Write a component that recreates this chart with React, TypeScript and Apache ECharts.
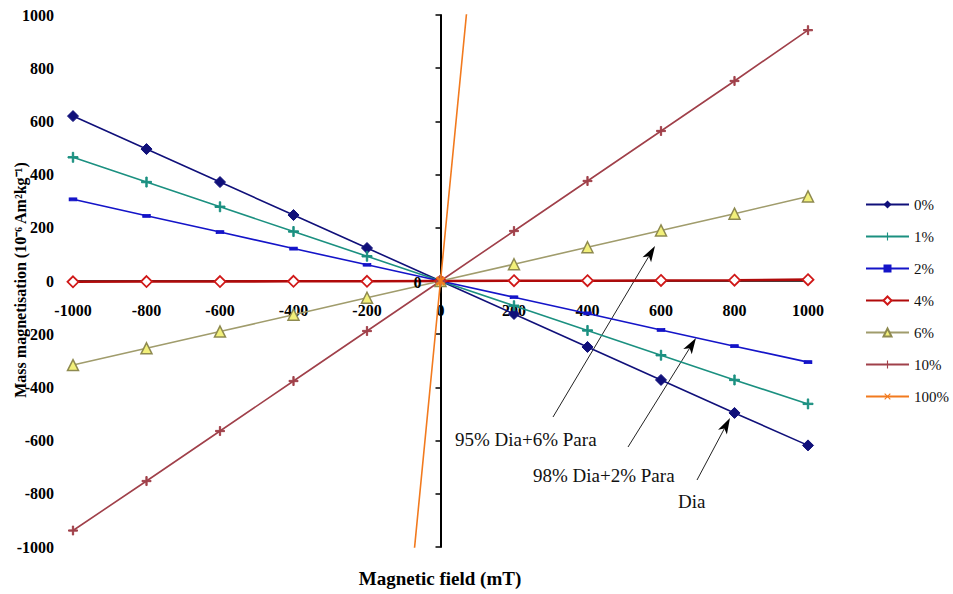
import React, { useEffect, useRef } from "react";
import * as echarts from "echarts";

const fieldValues = [-1000, -800, -600, -400, -200, 0, 200, 400, 600, 800, 1000];
const seriesNames = ["0%", "1%", "2%", "4%", "6%", "10%", "100%"];
const mag0 = [620, 496, 372, 248, 124, 0, -124, -248, -372, -496, -618];
const mag1 = [465, 372, 279, 186, 93, 0, -93, -186, -279, -372, -462];
const mag2 = [307, 245, 184, 122, 61, 0, -61, -122, -184, -245, -305];
const mag4 = [-3, -2, -2, -1, -1, 0, 1, 1, 2, 3, 5];
const mag6 = [-316, -253, -190, -127, -63, 0, 63, 127, 190, 253, 318];
const mag10 = [-938, -752, -564, -376, -188, 0, 188, 376, 564, 752, 943];
const mag100 = [-14200, -11360, -8520, -5680, -2840, 0, 2840, 5680, 8520, 11360, 14200];
const xTicks = [-1000, 1000, 200];
const yTicks = [-1000, 1000, 200];
const yZeroLabel = "0";

const SERIF = "'Times New Roman', 'Liberation Serif', serif";
const PLUS = "path://M4.3,0H5.7V4.3H10V5.7H5.7V10H4.3V5.7H0V4.3H4.3Z";

const GRID_TOP = 15;
const GRID_BOTTOM = 47;
const GRID_LEFT = 73;
const GRID_RIGHT = 145;
const CHART_W = 953;
const CHART_H = 594;
const Y_LABEL_MARGIN = 19;
const TICK_FONT = 16;

function arrow(x1: number, y1: number, x2: number, y2: number) {
  const dx = x2 - x1;
  const dy = y2 - y1;
  const len = Math.sqrt(dx * dx + dy * dy);
  const ux = dx / len;
  const uy = dy / len;
  const L = 16;
  const W = 5;
  const bx = x2 - ux * L;
  const by = y2 - uy * L;
  const nx = -uy;
  const ny = ux;
  return [
    {
      type: "line",
      shape: { x1, y1, x2: bx + ux * 4, y2: by + uy * 4 },
      style: { stroke: "#222", lineWidth: 1 },
      silent: true,
    },
    {
      type: "polygon",
      shape: {
        points: [
          [x2, y2],
          [bx + nx * W, by + ny * W],
          [bx + ux * 4, by + uy * 4],
          [bx - nx * W, by - ny * W],
        ],
      },
      style: { fill: "#000" },
      silent: true,
    },
  ];
}

export default function App() {
  const ref = useRef<HTMLDivElement>(null);
  useEffect(() => {
    if (!ref.current) return;
    const chart = echarts.init(ref.current, undefined, { renderer: "svg" });
    const pts = (arr: number[]) => fieldValues.map((x, i) => [x, arr[i]]);
    const mk = (
      name: string,
      arr: number[],
      color: string,
      symbol: string,
      size: number | number[],
      extra: any = {}
    ) => ({
      name,
      type: "line",
      data: pts(arr),
      symbol,
      symbolSize: size,
      showAllSymbol: true,
      clip: true,
      lineStyle: { color, width: 1.6 },
      itemStyle: { color, borderColor: color },
      ...extra,
    });
    const gridH = CHART_H - GRID_TOP - GRID_BOTTOM;
    const gridW = CHART_W - GRID_LEFT - GRID_RIGHT;
    const zeroOffset = -gridH * (0 - yTicks[0]) / (yTicks[1] - yTicks[0]);
    const zeroX = GRID_LEFT + gridW * (0 - xTicks[0]) / (xTicks[1] - xTicks[0]);
    const zeroY = CHART_H - GRID_BOTTOM + zeroOffset;
    chart.setOption({
      animation: false,
      backgroundColor: "#fff",
      grid: { left: GRID_LEFT, right: GRID_RIGHT, top: GRID_TOP, bottom: GRID_BOTTOM, containLabel: false },
      legend: {
        orient: "vertical",
        left: 860,
        top: 192,
        itemWidth: 43,
        itemHeight: 10,
        itemGap: 17,
        textStyle: { fontFamily: SERIF, fontSize: 15, color: "#111" },
        data: seriesNames,
      },
      xAxis: {
        type: "value",
        min: xTicks[0],
        max: xTicks[1],
        interval: xTicks[2],
        offset: zeroOffset,
        axisLine: { onZero: false, lineStyle: { color: "#000", width: 1.5 } },
        axisTick: { show: false },
        splitLine: { show: false },
        axisLabel: {
          margin: 21,
          fontFamily: SERIF,
          fontWeight: "bold",
          fontSize: TICK_FONT,
          color: "#000",
          formatter: (v: number) => String(v),
        },
      },
      yAxis: {
        type: "value",
        z: 3,
        min: yTicks[0],
        max: yTicks[1],
        interval: yTicks[2],
        axisLine: { onZero: true, lineStyle: { color: "#000", width: 2 } },
        axisTick: { show: true, inside: false, length: 5, lineStyle: { color: "#000", width: 1.5 } },
        splitLine: { show: false },
        axisLabel: {
          margin: Y_LABEL_MARGIN,
          fontFamily: SERIF,
          fontWeight: "bold",
          fontSize: TICK_FONT,
          color: "#000",
          formatter: (v: number) => String(v),
        },
      },
      series: [
        mk(seriesNames[0], mag0, "#10107A", "diamond", 11),
        mk(seriesNames[1], mag1, "#1B9080", PLUS, 10),
        mk(seriesNames[2], mag2, "#1414C8", "rect", [7, 3]),
        mk(seriesNames[3], mag4, "#C41010", "diamond", 11, {
          lineStyle: { color: "#B00A0A", width: 2.6 },
          itemStyle: { color: "#fff", borderColor: "#D01818", borderWidth: 1.8 },
        }),
        mk(seriesNames[4], mag6, "#A09C6C", "triangle", 11, {
          itemStyle: { color: "#F2F07A", borderColor: "#8E8A50", borderWidth: 1.5 },
        }),
        mk(seriesNames[5], mag10, "#A0404A", PLUS, 9),
        mk(seriesNames[6], mag100, "#F27A1E", PLUS, 10, { symbolRotate: 45, z: 4 }),
      ],
      graphic: [
        ...arrow(553, 417, 655, 246),
        ...arrow(628, 447, 696, 338),
        ...arrow(697, 480, 730, 418),
        {
          type: "text",
          x: zeroX - Y_LABEL_MARGIN,
          y: zeroY + 1,
          z: 10,
          style: {
            text: yZeroLabel,
            fontFamily: SERIF,
            fontSize: TICK_FONT,
            fontWeight: "bold",
            fill: "#000",
            align: "right",
            verticalAlign: "middle",
          },
          silent: true,
        },
        {
          type: "text",
          left: 455,
          top: 430,
          style: { text: "95% Dia+6% Para", fontFamily: SERIF, fontSize: 19, fill: "#111" },
          silent: true,
        },
        {
          type: "text",
          left: 533,
          top: 466,
          style: { text: "98% Dia+2% Para", fontFamily: SERIF, fontSize: 19, fill: "#111" },
          silent: true,
        },
        {
          type: "text",
          left: 678,
          top: 492,
          style: { text: "Dia", fontFamily: SERIF, fontSize: 19, fill: "#111" },
          silent: true,
        },
        {
          type: "text",
          x: 440,
          y: 578,
          style: {
            text: "Magnetic field (mT)",
            fontFamily: SERIF,
            fontSize: 19,
            fontWeight: "bold",
            fill: "#000",
            align: "center",
            verticalAlign: "middle",
          },
          silent: true,
        },
        {
          type: "text",
          x: 20,
          y: 280,
          rotation: Math.PI / 2,
          style: {
            text: "Mass magnetisation (10⁻⁶ Am²kg⁻¹)",
            fontFamily: SERIF,
            fontSize: 16,
            fontWeight: "bold",
            fill: "#000",
            align: "center",
            verticalAlign: "middle",
          },
          silent: true,
        },
      ],
    });
    return () => chart.dispose();
  }, []);
  return <div ref={ref} style={{ width: 953, height: 594, position: "absolute", left: 0, top: 0 }} />;
}
